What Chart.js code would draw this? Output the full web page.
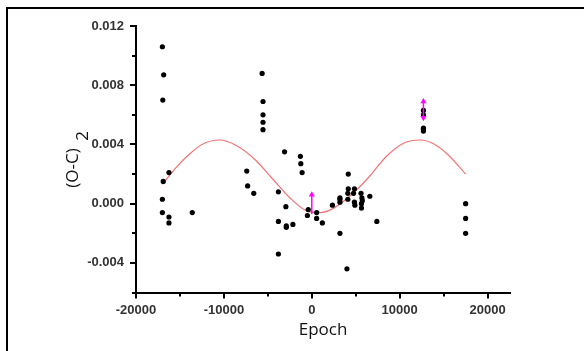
<!DOCTYPE html>
<html>
<head>
<meta charset="utf-8">
<script src="https://cdn.jsdelivr.net/npm/chart.js@4.4.1/dist/chart.umd.min.js"></script>
<style>
  body { margin: 0; background: #fff; }
  #wrap { position: relative; width: 584px; height: 351px; overflow: hidden; }
  #frame { position: absolute; left: 6px; top: 7px; width: 700px; height: 500px; border: 2px solid #000; }
  canvas { position: absolute; left: 0; top: 0; }
</style>
</head>
<body>
<div id="wrap">
  <div id="frame"></div>
  <canvas id="ocChart" width="584" height="351"></canvas>
</div>
<script>
// observed (O-C)2 residuals
const epoch = [
  -17000, -16850, -16950, -16900, -16250, -17000, -17000, -16250, -16250, -13600,
  -5650, -5550, -5550, -5550, -5550, -7400, -7300, -6600, -3100, -1300,
  -1250, -1100, -3800, -2950, -3800, -2900, -2900, -2150, -3800, -400,
  -500, 550, 550, 1200, 2350, 3200, 3200, 3200, 3200, 4150,
  4150, 4850, 4100, 4750, 4100, 4850, 4900, 5600, 5700, 5750,
  5650, 5650, 6600, 7400, 4000, 12700, 12700, 12700, 12700, 12700,
  17500, 17500, 17500
];
const ocValues = [
  0.0106, 0.0087, 0.0070, 0.0015, 0.0021, 0.0003, -0.0006, -0.0009, -0.0013, -0.0006,
  0.0088, 0.0069, 0.0060, 0.0055, 0.0050, 0.0022, 0.0012, 0.0007, 0.0035, 0.0032,
  0.0027, 0.0021, 0.0008, -0.0002, -0.0012, -0.0015, -0.0016, -0.0014, -0.0034, -0.0004,
  -0.0008, -0.0006, -0.0010, -0.0013, -0.0001, 0.0004, 0.0003, 0.0001, -0.0020, 0.0020,
  0.0010, 0.0010, 0.0007, 0.0007, 0.0003, 0.0001, -0.0001, 0.0007, 0.0004, 0.0002,
  0.0000, -0.0003, 0.0005, -0.0012, -0.0044, 0.0063, 0.0060, 0.0051, 0.0050, 0.0049,
  0.0000, -0.0010, -0.0020
];

// fitted curve
const fitEpoch = [-17000, -15500, -14000, -12500, -10500, -8500, -6500, -4500, -2500, -500,
  1000, 2500, 4500, 6500, 8500, 10500, 12300, 14000, 15500, 17500];
const fitValues = [0.0013, 0.0024, 0.0033, 0.0040, 0.0043, 0.0039, 0.0030, 0.0017, 0.0004, -0.0005,
  -0.0006, -0.0003, 0.0006, 0.0018, 0.0032, 0.0041, 0.0043, 0.0040, 0.0033, 0.0020];

// magenta limit arrows
const arrow1Epoch = [0, 0];
const arrow1Values = [-0.0007, 0.0006];
const arrow2Epoch = [12700, 12700];
const arrow2Values = [0.0058, 0.0069];

// tick positions (all) and the labelled ones
const xTickValues = [-20000, -15000, -10000, -5000, 0, 5000, 10000, 15000, 20000];
const xTickLabels = [-20000, -10000, 0, 10000, 20000];
const yTickValues = [-0.006, -0.004, -0.002, 0, 0.002, 0.004, 0.006, 0.008, 0.010, 0.012];
const yTickLabels = [-0.004, 0.000, 0.004, 0.008, 0.012];

function toPoints(xs, ys) {
  return xs.map((x, i) => ({ x: x, y: ys[i] }));
}

// outward tick marks (major longer than minor) and the subscripted y title
const axisDecor = {
  id: 'axisDecor',
  afterDraw(chart) {
    const ctx = chart.ctx;
    const xs = chart.scales.x, ys = chart.scales.y;
    const area = chart.chartArea;
    ctx.save();
    ctx.strokeStyle = '#000';
    ctx.lineWidth = 2;
    ctx.beginPath();
    xs.ticks.forEach(t => {
      const px = Math.round(xs.getPixelForValue(t.value));
      const major = xTickLabels.some(v => Math.abs(v - t.value) < 1);
      ctx.moveTo(px, area.bottom);
      ctx.lineTo(px, area.bottom + (major ? 6 : 4));
    });
    ys.ticks.forEach(t => {
      const py = Math.round(ys.getPixelForValue(t.value));
      const major = yTickLabels.some(v => Math.abs(v - t.value) < 1e-6);
      ctx.moveTo(area.left, py);
      ctx.lineTo(area.left - (major ? 6 : 4), py);
    });
    ctx.stroke();

    ctx.fillStyle = '#111';
    ctx.font = '17px "Open Sans", "Liberation Sans", sans-serif';
    ctx.textAlign = 'center';
    ctx.textBaseline = 'middle';
    ctx.translate(73, 168);
    ctx.rotate(-Math.PI / 2);
    ctx.fillText('(O-C)', 0, 0);
    ctx.fillText('2', 32, 10);
    ctx.restore();
  }
};

const tickFont = { family: '"Liberation Sans", Arial, sans-serif', size: 13, weight: 'bold' };

const ctx = document.getElementById('ocChart').getContext('2d');
new Chart(ctx, {
  type: 'scatter',
  data: {
    datasets: [
      {
        data: toPoints(arrow1Epoch, arrow1Values),
        showLine: true,
        borderColor: '#ff00ff',
        borderWidth: 1.5,
        backgroundColor: '#ff00ff',
        pointStyle: 'triangle',
        pointRadius: [0, 3.5],
        pointBorderWidth: 0
      },
      {
        data: toPoints(arrow2Epoch, arrow2Values),
        showLine: true,
        borderColor: '#ff00ff',
        borderWidth: 1.5,
        backgroundColor: '#ff00ff',
        pointStyle: 'triangle',
        pointRadius: [3.5, 3.5],
        pointRotation: [180, 0],
        pointBorderWidth: 0
      },
      {
        data: toPoints(epoch, ocValues),
        backgroundColor: '#000',
        pointRadius: 2.6,
        pointBorderWidth: 0
      },
      {
        data: toPoints(fitEpoch, fitValues),
        showLine: true,
        borderColor: '#f27373',
        borderWidth: 1.2,
        pointRadius: 0,
        cubicInterpolationMode: 'monotone'
      }
    ]
  },
  options: {
    responsive: false,
    animation: false,
    layout: { padding: { top: 26, right: 74, bottom: 0, left: 0 } },
    plugins: { legend: { display: false }, tooltip: { enabled: false } },
    scales: {
      x: {
        type: 'linear',
        min: -20000,
        max: 22550,
        grid: { display: false, drawTicks: false },
        border: { display: true, color: '#000', width: 2 },
        afterBuildTicks: s => { s.ticks = xTickValues.map(v => ({ value: v })); },
        ticks: {
          autoSkip: false,
          maxRotation: 0,
          padding: 10,
          color: '#333',
          font: tickFont,
          callback: v => xTickLabels.some(t => Math.abs(t - v) < 1) ? String(v) : ''
        },
        title: {
          display: true,
          text: 'Epoch',
          color: '#111',
          font: { family: '"Open Sans", sans-serif', size: 17 },
          padding: { top: 2, bottom: 11 }
        },
        afterFit: s => { s.height = 58.5; }
      },
      y: {
        type: 'linear',
        min: -0.006,
        max: 0.012,
        grid: { display: false, drawTicks: false },
        border: { display: true, color: '#000', width: 2 },
        afterBuildTicks: s => { s.ticks = yTickValues.map(v => ({ value: v })); },
        ticks: {
          autoSkip: false,
          padding: 12,
          color: '#333',
          font: tickFont,
          callback: v => yTickLabels.some(t => Math.abs(t - v) < 1e-6) ? v.toFixed(3) : ''
        },
        afterFit: s => { s.width = 136; }
      }
    }
  },
  plugins: [axisDecor]
});
</script>
</body>
</html>
